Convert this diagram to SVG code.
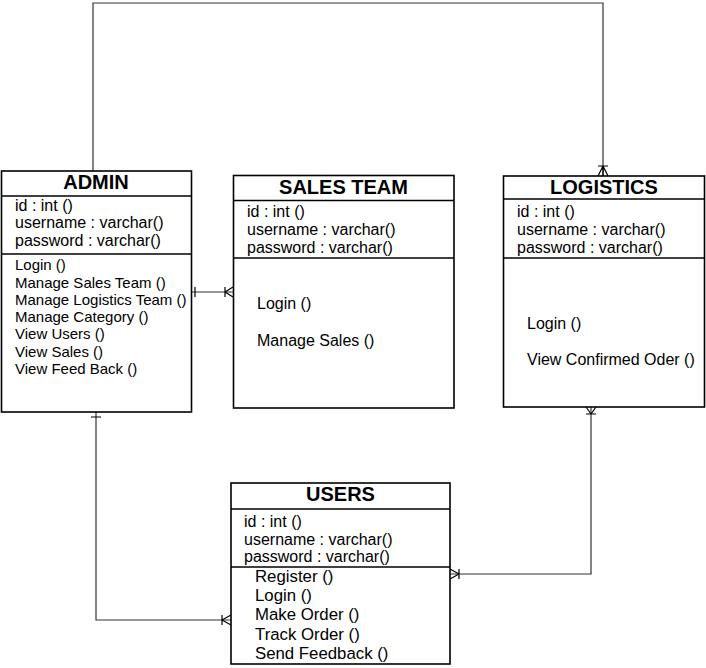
<svg xmlns="http://www.w3.org/2000/svg" width="706" height="668" viewBox="0 0 706 668">
<style>
.box{fill:#fff;stroke:#000;stroke-width:1.6}
.sep{stroke:#000;stroke-width:1.6}
.title{font-family:"Liberation Sans",Arial,sans-serif;font-weight:bold;font-size:20px;text-anchor:middle;fill:#000}
.attr{font-family:"Liberation Sans",Arial,sans-serif;font-size:16px;fill:#000}
.meth{font-family:"Liberation Sans",Arial,sans-serif;font-size:15px;fill:#000}
.meth2{font-family:"Liberation Sans",Arial,sans-serif;font-size:16px;fill:#000}
.meth3{font-family:"Liberation Sans",Arial,sans-serif;font-size:16.8px;fill:#000}
.conn{fill:none;stroke:#333;stroke-width:1.2}
.mark{fill:none;stroke:#000;stroke-width:1.2}
</style>
<rect width="706" height="668" fill="#fff"/>
<g id="connectors">
<path class="conn" d="M93,171 V3 H603 V176"/>
<path class="mark" d="M598,166 H608 M603,166 L598,176 M603,166 L608,176 M603,166 V176"/>
<path class="conn" d="M191,292 H233"/>
<path class="mark" d="M195,287 V297 M225,287 V297 M225,292 L233,287 M225,292 L233,297"/>
<path class="conn" d="M96,412 V620 H231"/>
<path class="mark" d="M91,417 H101 M222,615 V625 M222,620 L231,615 M222,620 L231,625"/>
<path class="conn" d="M591,407 V574 H450"/>
<path class="mark" d="M586,414 H596 M591,414 L586,407 M591,414 L596,407 M459,569 V579 M459,574 L450,569 M459,574 L450,579"/>
</g>
<g id="admin">
<rect class="box" x="1.5" y="171" width="190" height="241"/>
<line class="sep" x1="1.5" y1="196" x2="191.5" y2="196"/>
<line class="sep" x1="1.5" y1="254" x2="191.5" y2="254"/>
<text class="title" x="96" y="189">ADMIN</text>
<text class="attr" x="15" y="210.5">id : int ()</text>
<text class="attr" x="15" y="228">username : varchar()</text>
<text class="attr" x="15" y="246">password : varchar()</text>
<text class="meth" x="15" y="270">Login ()</text>
<text class="meth" x="15" y="287.5">Manage Sales Team ()</text>
<text class="meth" x="15" y="305">Manage Logistics Team ()</text>
<text class="meth" x="15" y="322">Manage Category ()</text>
<text class="meth" x="15" y="339">View Users ()</text>
<text class="meth" x="15" y="356.5">View Sales ()</text>
<text class="meth" x="15" y="373.5">View Feed Back ()</text>
</g>
<g id="sales-team">
<rect class="box" x="233.5" y="175.5" width="220.5" height="232.5"/>
<line class="sep" x1="233.5" y1="200.5" x2="454" y2="200.5"/>
<line class="sep" x1="233.5" y1="258" x2="454" y2="258"/>
<text class="title" x="343.5" y="193.5">SALES TEAM</text>
<text class="attr" x="247" y="217">id : int ()</text>
<text class="attr" x="247" y="235">username : varchar()</text>
<text class="attr" x="247" y="252.5">password : varchar()</text>
<text class="meth2" x="257" y="309">Login ()</text>
<text class="meth2" x="257" y="346">Manage Sales ()</text>
</g>
<g id="logistics">
<rect class="box" x="503.5" y="176" width="201" height="231"/>
<line class="sep" x1="503.5" y1="199" x2="704.5" y2="199"/>
<line class="sep" x1="503.5" y1="258" x2="704.5" y2="258"/>
<text class="title" x="604" y="193.5">LOGISTICS</text>
<text class="attr" x="517" y="217">id : int ()</text>
<text class="attr" x="517" y="235">username : varchar()</text>
<text class="attr" x="517" y="252.5">password : varchar()</text>
<text class="meth2" x="527" y="328.5">Login ()</text>
<text class="meth2" x="527" y="364.5">View Confirmed Oder ()</text>
</g>
<g id="users">
<rect class="box" x="231" y="483" width="219" height="181"/>
<line class="sep" x1="231" y1="509" x2="450" y2="509"/>
<line class="sep" x1="231" y1="567" x2="450" y2="567"/>
<text class="title" x="340.5" y="501">USERS</text>
<text class="attr" x="244" y="527">id : int ()</text>
<text class="attr" x="244" y="545">username : varchar()</text>
<text class="attr" x="244" y="562">password : varchar()</text>
<text class="meth3" x="255" y="581.5">Register ()</text>
<text class="meth3" x="255" y="601">Login ()</text>
<text class="meth3" x="255" y="620">Make Order ()</text>
<text class="meth3" x="255" y="639.5">Track Order ()</text>
<text class="meth3" x="255" y="658.5">Send Feedback ()</text>
</g>
</svg>
